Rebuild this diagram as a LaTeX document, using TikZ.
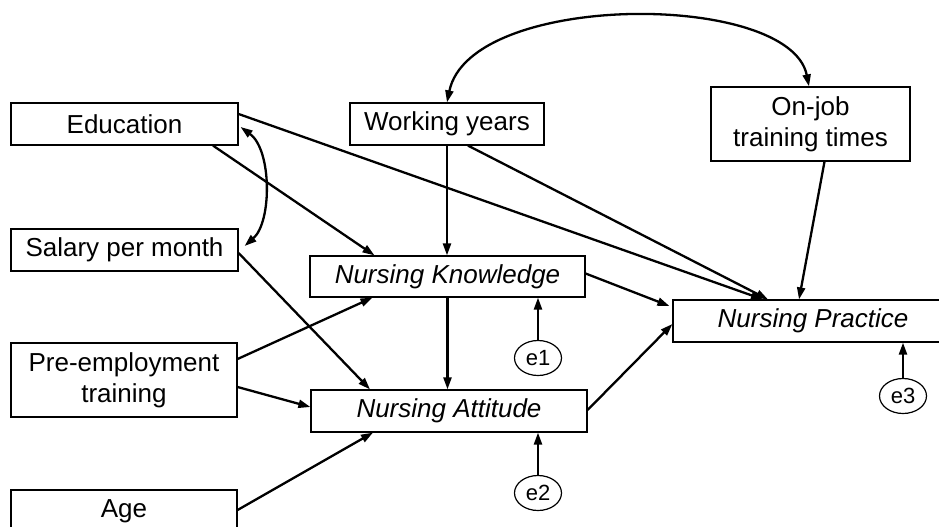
\documentclass[tikz,border=0pt]{standalone}
\usepackage{fontspec}
\setmainfont{Liberation Sans}
\usetikzlibrary{arrows.meta,calc,shapes.geometric}
\begin{document}
\begin{tikzpicture}[x=1pt,y=-1pt,
  box/.style={draw,line width=1.2pt,rectangle,inner sep=0pt,align=center,
    font=\fontsize{26}{31}\selectfont},
  lat/.style={box,font=\fontsize{26}{31}\selectfont\itshape},
  err/.style={draw,line width=1.2pt,ellipse,inner sep=0pt,minimum width=47pt,minimum height=35pt,
    font=\fontsize{22}{26}\selectfont},
  path/.style={line width=2.3pt,-{Triangle[length=12pt,width=8pt]}},
  cov/.style={line width=2.3pt,{Triangle[length=12pt,width=8pt]}-{Triangle[length=12pt,width=8pt]}}]
\clip (0,0) rectangle (939,527);
\useasboundingbox (0,0) rectangle (939,527);
\fill[white] (0,0) rectangle (939,527);

\node[box,minimum width=227pt,minimum height=42pt] (edu) at (124.5,124) {Education};
\node[box,minimum width=227pt,minimum height=42pt] (sal) at (124.5,250) {Salary per month};
\node[box,minimum width=226pt,minimum height=74pt] (pre) at (124,380) {Pre-employment\\training};
\node[box,minimum width=226pt,minimum height=42pt] (age) at (124,511) {Age};
\node[box,minimum width=194pt,minimum height=42pt] (wy) at (447,124) {Working years};
\node[box,minimum width=199pt,minimum height=74pt] (oj) at (810.5,124) {On-job\\training times};
\node[lat,minimum width=275pt,minimum height=41pt] (nk) at (447.5,276.5) {Nursing Knowledge};
\node[lat,minimum width=276pt,minimum height=42pt] (na) at (449,411) {Nursing Attitude};
\node[lat,minimum width=280pt,minimum height=42pt] (np) at (813,321) {Nursing Practice};
\node[err] (e1) at (538,358) {e1};
\node[err] (e2) at (538,493) {e2};
\node[err] (e3) at (903,396) {e3};

% paths
\draw[path] ($(edu.south)+(88.5,0)$) -- ($(nk.north)+(-73,0)$);
\draw[path] ($(edu.east)+(0,-10)$) -- ($(np.north)+(-50,0)$);
\draw[path] (wy.south) -- (wy.south |- nk.north);
\draw[path] ($(wy.south)+(21,0)$) -- ($(np.north)+(-45,0)$);
\draw[path] ($(oj.south)+(14,0)$) -- ($(np.north)+(-14,0)$);
\draw[path] ($(sal.east)+(0,3)$) -- ($(na.north)+(-79,0)$);
\draw[path] ($(pre.east)+(0,-21)$) -- ($(nk.south)+(-75,0)$);
\draw[path] ($(pre.east)+(0,7)$) -- ($(na.west)+(0,-4)$);
\draw[path] ($(age.east)+(0,-1)$) -- ($(na.south)+(-76,0)$);
\draw[path] (nk.south) -- (nk.south |- na.north);
\draw[path] ($(nk.east)+(0,-3)$) -- ($(np.west)+(-3,-15)$);
\draw[path] ($(na.east)+(0,-1)$) -- ($(np.west)+(0,3)$);
\draw[path] (e1.north) -- (e1.north |- nk.south);
\draw[path] (e2.north) -- (e2.north |- na.south);
\draw[path] (e3.north) -- (e3.north |- np.south);

% covariances
\draw[cov] ($(edu.east)+(2,3)$) .. controls (272,150) and (272,222) .. ($(sal.east)+(6,-4)$);
\draw[cov] (wy.north) .. controls (470,-9) and (790,-9) .. ($(oj.north)+(-1.5,0)$);
\end{tikzpicture}
\end{document}
